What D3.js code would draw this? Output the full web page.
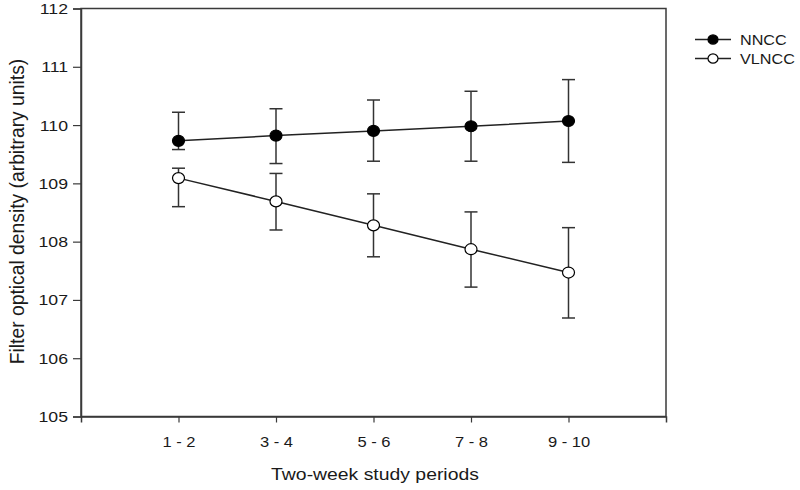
<!DOCTYPE html>
<html><head><meta charset="utf-8">
<script src="https://cdn.jsdelivr.net/npm/d3@7"></script>
<style>body{margin:0;background:#fff}svg{display:block}</style>
</head><body>
<svg id="c" width="800" height="490"></svg>
<script>
const periods = ["1 - 2","3 - 4","5 - 6","7 - 8","9 - 10"];
const nnccMean = [109.73,109.82,109.90,109.98,110.07];
const nnccHi   = [110.22,110.28,110.43,110.58,110.78];
const nnccLo   = [109.58,109.34,109.38,109.38,109.36];
const vlnccMean = [109.09,108.69,108.28,107.87,107.47];
const vlnccHi   = [109.26,109.17,108.82,108.51,108.24];
const vlnccLo   = [108.60,108.20,107.74,107.22,106.69];
const yTicks = [105,106,107,108,109,110,111,112];
const seriesNames = ["NNCC","VLNCC"];

const svg = d3.select("#c");
const L=81, R=666, T=8.5, B=416.5;
const SX = 1.14; // horizontal stretch of text
const x = d3.scaleLinear().domain([0,6]).range([L,R]);
const y = d3.scaleLinear().domain([105,112]).range([B,T]);
const font = "Arial, 'Liberation Sans', sans-serif";
const axCol = "#3a3a3a";
const txtCol = "#1a1a1a";

// frame
svg.append("rect").attr("x",L).attr("y",T).attr("width",R-L).attr("height",B-T)
  .attr("fill","none").attr("stroke",axCol).attr("stroke-width",1.5);

// y axis
const ya = svg.append("g").attr("transform",`translate(${L},0)`)
  .call(d3.axisLeft(y).tickValues(yTicks).tickSize(8).tickPadding(5).tickFormat(d3.format("d")));
ya.select(".domain").attr("stroke",axCol).attr("stroke-width",1.5);
ya.selectAll(".tick line").attr("stroke",axCol).attr("stroke-width",1.2);
ya.selectAll("text").attr("font-family",font).attr("font-size",15.5).attr("fill",txtCol)
  .attr("x",-13/SX).attr("transform",`scale(${SX},1)`);

// x axis
const xa = svg.append("g").attr("transform",`translate(0,${B})`)
  .call(d3.axisBottom(x).tickValues(periods.map((d,i)=>i+1)).tickSize(6).tickPadding(14)
    .tickFormat((d)=>periods[d-1]));
xa.select(".domain").attr("stroke",axCol).attr("stroke-width",1.5);
xa.selectAll(".tick line").attr("stroke",axCol).attr("stroke-width",1.2);
xa.selectAll("text").attr("font-family",font).attr("font-size",14.5).attr("fill",txtCol)
  .attr("transform",`scale(${SX},1)`);

// titles
svg.append("text").attr("transform",`translate(375,479.5) scale(${SX},1)`).attr("text-anchor","middle")
  .attr("font-family",font).attr("font-size",17).attr("fill",txtCol).text("Two-week study periods");
svg.append("text").attr("transform",`translate(23.5,211.5) scale(1.06,1) rotate(-90)`).attr("text-anchor","middle")
  .attr("font-family",font).attr("font-size",19.3).attr("fill",txtCol).text("Filter optical density (arbitrary units)");

const series = [
  {name:seriesNames[0], mean:nnccMean, hi:nnccHi, lo:nnccLo, fill:"#000"},
  {name:seriesNames[1], mean:vlnccMean, hi:vlnccHi, lo:vlnccLo, fill:"#fff"}
];
const line = d3.line().x((d,i)=>x(i+1)).y(d=>y(d));
const cap = 6.5;
series.forEach(s=>{
  const g = svg.append("g");
  s.mean.forEach((m,i)=>{
    const cx = x(i+1);
    g.append("line").attr("x1",cx).attr("x2",cx).attr("y1",y(s.hi[i])).attr("y2",y(s.lo[i]))
      .attr("stroke","#333").attr("stroke-width",1.5);
    [s.hi[i], s.lo[i]].forEach(v=>{
      g.append("line").attr("x1",cx-cap).attr("x2",cx+cap).attr("y1",y(v)).attr("y2",y(v))
        .attr("stroke","#333").attr("stroke-width",1.5);
    });
  });
  g.append("path").attr("d",line(s.mean)).attr("fill","none").attr("stroke","#222").attr("stroke-width",1.5);
  g.selectAll("ellipse").data(s.mean).enter().append("ellipse")
    .attr("cx",(d,i)=>x(i+1)).attr("cy",d=>y(d)).attr("rx",6).attr("ry",5.5)
    .attr("fill",s.fill).attr("stroke","#000").attr("stroke-width",1.2);
});

// legend
series.forEach((s,i)=>{
  const ly = 39.5 + i*19;
  const g = svg.append("g");
  g.append("line").attr("x1",695).attr("x2",731).attr("y1",ly).attr("y2",ly).attr("stroke","#222").attr("stroke-width",1.5);
  g.append("ellipse").attr("cx",713).attr("cy",ly).attr("rx",5).attr("ry",4.6).attr("fill",s.fill).attr("stroke","#000").attr("stroke-width",1.2);
  g.append("text").attr("transform",`translate(740,${ly}) scale(${SX},1)`).attr("dy","0.36em").attr("font-family",font)
    .attr("font-size",14.2).attr("fill",txtCol).text(s.name);
});
</script>
</body></html>
